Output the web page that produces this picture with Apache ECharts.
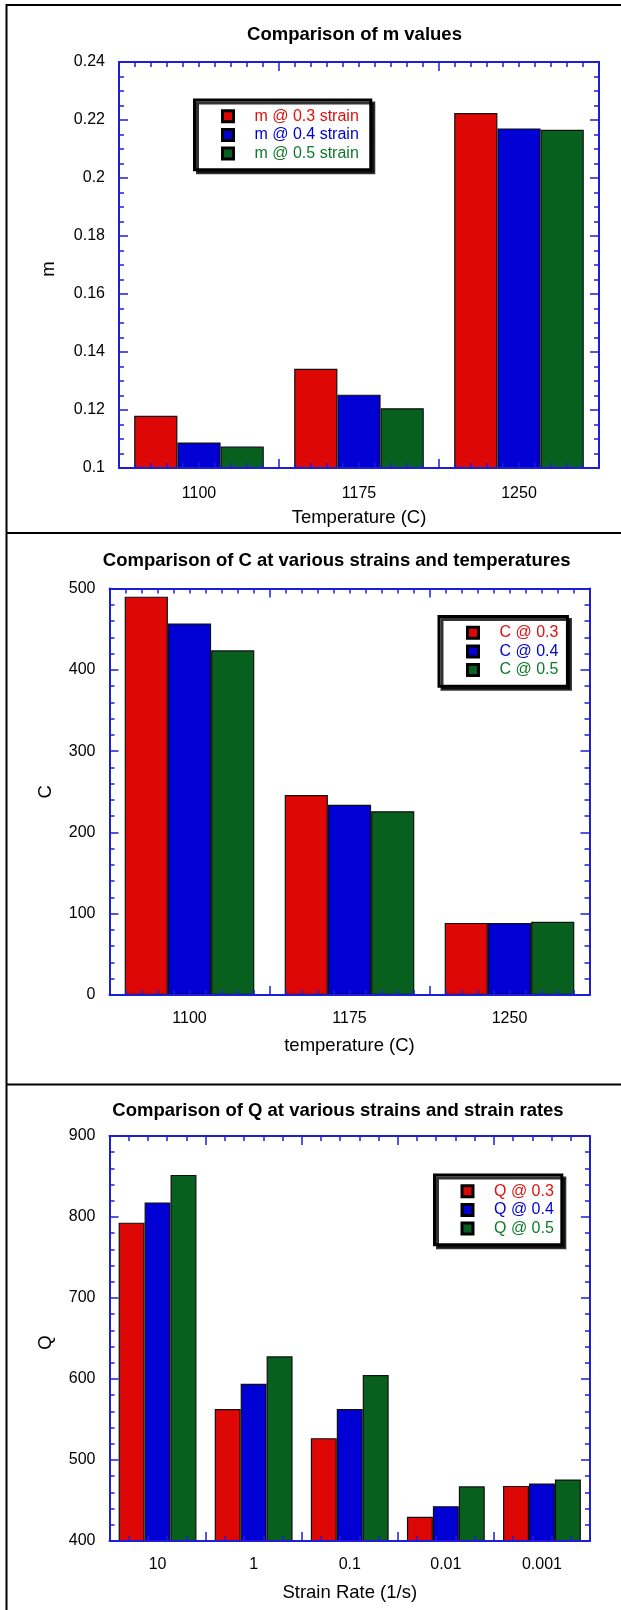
<!DOCTYPE html>
<html>
<head>
<meta charset="utf-8">
<script src="https://cdn.jsdelivr.net/npm/echarts@6/dist/echarts.min.js"></script>
<style>
html,body{margin:0;padding:0;background:#fff;}
#c{width:621px;height:1610px;}
</style>
</head>
<body>
<div id="c"></div>
<script>
// ---------- data ----------
const mCategories = ['1100', '1175', '1250'];
const mSeriesNames = ['m @ 0.3 strain', 'm @ 0.4 strain', 'm @ 0.5 strain'];
const m03 = [0.118, 0.1342, 0.2224];
const m04 = [0.1088, 0.1253, 0.2171];
const m05 = [0.1074, 0.1206, 0.2166];
const mAxis = { min: 0.1, max: 0.24, interval: 0.02 };

const cCategories = ['1100', '1175', '1250'];
const cSeriesNames = ['C @ 0.3', 'C @ 0.4', 'C @ 0.5'];
const c03 = [490, 246, 88.7];
const c04 = [457, 234, 88.5];
const c05 = [424, 226, 90];
const cAxis = { min: 0, max: 500, interval: 100 };

const qCategories = ['10', '1', '0.1', '0.01', '0.001'];
const qSeriesNames = ['Q @ 0.3', 'Q @ 0.4', 'Q @ 0.5'];
const q03 = [793, 563, 527, 430, 468];
const q04 = [818, 594, 563, 443, 471];
const q05 = [852, 628, 605, 467.5, 476];
const qAxis = { min: 400, max: 900, interval: 100 };

// ---------- styles / layout ----------
const FONT = '"Liberation Sans", Arial, Helvetica, sans-serif';
const BLUE = '#1e1ed8';
const COLORS = ['#dd0806', '#0000d4', '#07601e'];
const TEXT_COLORS = ['#e0100e', '#0000d4', '#0f7a2a'];

const panels = [
  {
    cats: mCategories, names: mSeriesNames, data: [m03, m04, m05], axis: mAxis,
    yMinor: 4, xMinor: 10,
    title: 'Comparison of m values', titleX: 354.5, titleY: 25,
    xName: 'Temperature (C)', yName: 'm', yNamePad: [0, 8, 0, 0],
    grid: { left: 119, top: 62, width: 480, height: 406 },
    xLabelMargin: 17.5, xNameGap: 40, yNameGap: 61,
    legend: { left: 194.5, top: 100, padding: [7, 12, 7, 26.5] }
  },
  {
    cats: cCategories, names: cSeriesNames, data: [c03, c04, c05], axis: cAxis,
    yMinor: 5, xMinor: 10,
    title: 'Comparison of C at various strains and temperatures', titleX: 336.7, titleY: 551.5,
    xName: 'temperature (C)', yName: 'C', yNamePad: [0, 0, 0, 0],
    grid: { left: 109.5, top: 588.5, width: 480, height: 406.5 },
    xLabelMargin: 16, xNameGap: 41.5, yNameGap: 54,
    legend: { left: 439, top: 616.5, padding: [7, 9, 7, 27] }
  },
  {
    cats: qCategories, names: qSeriesNames, data: [q03, q04, q05], axis: qAxis,
    yMinor: 5, xMinor: 5,
    title: 'Comparison of Q at various strains and strain rates', titleX: 338, titleY: 1101,
    xName: 'Strain Rate (1/s)', yName: 'Q', yNamePad: [0, 8, 0, 0],
    grid: { left: 109.5, top: 1136, width: 480.5, height: 405 },
    xLabelMargin: 15.5, xNameGap: 42.5, yNameGap: 54,
    legend: { left: 434.5, top: 1175, padding: [7, 8, 7, 26] }
  }
];

const lineStyle = { color: BLUE, width: 2 };
const tickStyle = { color: BLUE, width: 1.5 };

const option = {
  animation: false,
  backgroundColor: '#fff',
  textStyle: { fontFamily: FONT },
  title: [], grid: [], xAxis: [], yAxis: [], legend: [], series: [],
  graphic: [
    { type: 'line', shape: { x1: 6.5, y1: 4, x2: 6.5, y2: 1610 }, style: { stroke: '#000', lineWidth: 2 } },
    { type: 'line', shape: { x1: 6, y1: 5, x2: 621, y2: 5 }, style: { stroke: '#000', lineWidth: 2 } },
    { type: 'line', shape: { x1: 6, y1: 533, x2: 621, y2: 533 }, style: { stroke: '#000', lineWidth: 2 } },
    { type: 'line', shape: { x1: 6, y1: 1084.5, x2: 621, y2: 1084.5 }, style: { stroke: '#000', lineWidth: 2 } }
  ]
};

panels.forEach((p, g) => {
  const n = p.cats.length;
  option.title.push({
    text: p.title, left: p.titleX, top: p.titleY, textAlign: 'center', padding: 0,
    textStyle: { fontSize: 18.5, fontWeight: 'bold', color: '#000', fontFamily: FONT }
  });
  option.grid.push(Object.assign({ containLabel: false }, p.grid));
  // category axis (labels + name)
  option.xAxis.push({
    type: 'category', gridIndex: g, position: 'bottom', data: p.cats, z: 6,
    axisLine: { show: false }, axisTick: { show: false },
    axisLabel: { fontSize: 16, color: '#000', margin: p.xLabelMargin, fontFamily: FONT },
    name: p.xName, nameLocation: 'middle', nameGap: p.xNameGap,
    nameTextStyle: { fontSize: 18.5, color: '#000', fontFamily: FONT },
    splitLine: { show: false }
  });
  // bottom tick axis and top tick axis
  ['bottom', 'top'].forEach(pos => {
    option.xAxis.push({
      type: 'value', gridIndex: g, position: pos, min: 0, max: n, interval: 1, z: 6,
      axisLine: { show: true, onZero: false, lineStyle },
      axisTick: { show: true, inside: true, length: 9, lineStyle: tickStyle },
      minorTick: { show: true, splitNumber: p.xMinor, length: 5, lineStyle: tickStyle },
      axisLabel: { show: false }, splitLine: { show: false }, minorSplitLine: { show: false }
    });
  });
  // left and right value axes
  ['left', 'right'].forEach(pos => {
    const ax = {
      type: 'value', gridIndex: g, position: pos,
      min: p.axis.min, max: p.axis.max, interval: p.axis.interval, z: 6,
      axisLine: { show: true, onZero: false, lineStyle },
      axisTick: { show: true, inside: true, length: 9, lineStyle: tickStyle },
      minorTick: { show: true, splitNumber: p.yMinor, length: 5, lineStyle: tickStyle },
      splitLine: { show: false }, minorSplitLine: { show: false },
      axisLabel: { show: pos === 'left', fontSize: 16, color: '#000', margin: 14, fontFamily: FONT }
    };
    if (pos === 'left') {
      ax.name = p.yName; ax.nameLocation = 'middle'; ax.nameGap = p.yNameGap;
      ax.nameTextStyle = { fontSize: 18.5, color: '#000', fontFamily: FONT, padding: p.yNamePad };
    }
    option.yAxis.push(ax);
  });
  option.legend.push({
    orient: 'vertical', left: p.legend.left, top: p.legend.top, padding: p.legend.padding,
    data: p.names.map((nm, i) => ({ name: nm, textStyle: { color: TEXT_COLORS[i] } })),
    icon: 'rect', itemWidth: 11, itemHeight: 11, itemGap: 0,
    itemStyle: { borderColor: '#000', borderWidth: 3 },
    textStyle: { fontSize: 16, fontFamily: FONT, lineHeight: 18.6, padding: [0, 0, 0, 16] },
    backgroundColor: '#fff', borderColor: '#000', borderWidth: 3,
    shadowColor: 'rgba(0,0,0,0.8)', shadowOffsetX: 3, shadowOffsetY: 3, shadowBlur: 0,
    selectedMode: false
  });
  p.names.forEach((nm, i) => {
    option.series.push({
      type: 'bar', name: nm, xAxisIndex: g * 3, yAxisIndex: g * 2,
      data: p.data[i], barGap: '0%', barCategoryGap: '19%',
      itemStyle: { color: COLORS[i], borderColor: '#111', borderWidth: 1.2 },
      emphasis: { disabled: true }
    });
  });
});

const chart = echarts.init(document.getElementById('c'), null, { renderer: 'canvas' });
chart.setOption(option);
</script>
</body>
</html>
